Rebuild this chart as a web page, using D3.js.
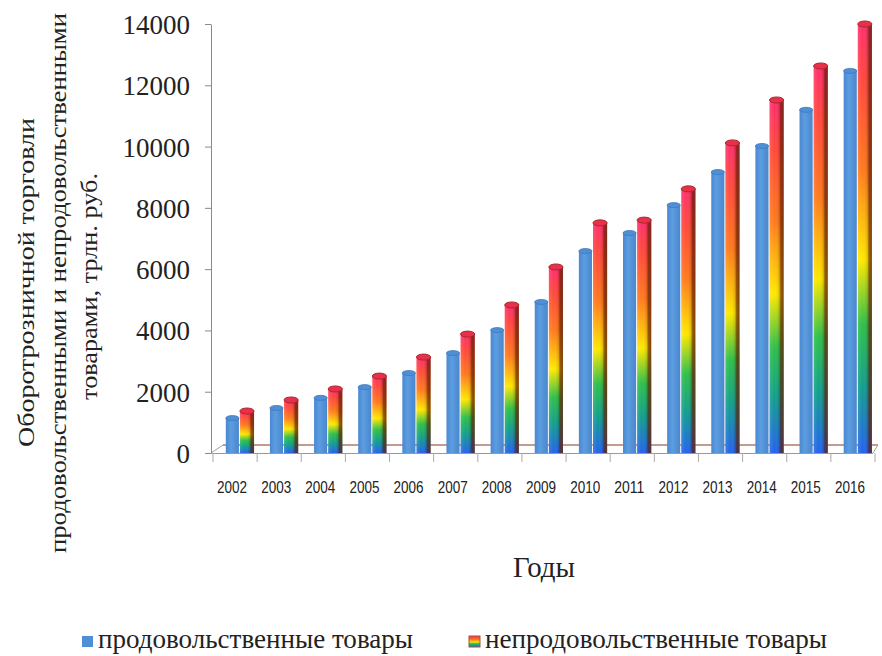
<!DOCTYPE html>
<html>
<head>
<meta charset="utf-8">
<script src="https://cdn.jsdelivr.net/npm/d3@7/dist/d3.min.js"></script>
<style>
  html, body { margin: 0; padding: 0; background: #fff; }
  svg { display: block; }
</style>
</head>
<body>
<svg id="chart" width="882" height="656"></svg>
<script>
// Retail turnover by year: food vs non-food goods
const years = ["2002","2003","2004","2005","2006","2007","2008","2009","2010","2011","2012","2013","2014","2015","2016"];
const foodGoods    = [1140, 1470, 1800, 2150, 2610, 3260, 4010, 4930, 6590, 7180, 8090, 9170, 10020, 11200, 12470];
const nonFoodGoods = [1370, 1730, 2090, 2510, 3130, 3880, 4830, 6070, 7510, 7600, 8620, 10120, 11520, 12630, 14000];
const yTicks = [0, 2000, 4000, 6000, 8000, 10000, 12000, 14000];
const seriesNames = ["продовольственные товары", "непродовольственные товары"];
const yTitleLines = ["Оборотрозничной торговли", "продовольственными и непродовольственными", "товарами, трлн. руб."];
const xTitle = "Годы";

const serif = "'Liberation Serif', 'Times New Roman', serif";
const svg = d3.select("#chart");
const defs = svg.append("defs");

// rainbow fill of the non-food columns (top red -> bottom blue)
const rainbow = defs.append("linearGradient").attr("id", "rainbow")
  .attr("x1", 0).attr("y1", 0).attr("x2", 0).attr("y2", 1);
[[0, "#ff2f6e"], [0.14, "#ff4a3c"], [0.34, "#ff7a1e"], [0.55, "#ffe800"], [0.7, "#2fc04a"], [0.84, "#12a08c"], [1, "#2463ee"]]
  .forEach(([o, c]) => rainbow.append("stop").attr("offset", o).attr("stop-color", c));

// cylinder shading across a column
const shade = defs.append("linearGradient").attr("id", "shade")
  .attr("x1", 0).attr("y1", 0).attr("x2", 1).attr("y2", 0);
[[0, "#ffffff", 0.12], [0.35, "#ffffff", 0.0], [0.68, "#3a0a00", 0.15], [0.8, "#5a1a00", 0.65], [1, "#6a2a10", 0.85]]
  .forEach(([o, c, a]) => shade.append("stop").attr("offset", o).attr("stop-color", c).attr("stop-opacity", a));

const blueFill = defs.append("linearGradient").attr("id", "blueFill")
  .attr("x1", 0).attr("y1", 0).attr("x2", 1).attr("y2", 0);
[[0, "#4a88d2"], [0.4, "#5c9de0"], [1, "#4a86cc"]]
  .forEach(([o, c]) => blueFill.append("stop").attr("offset", o).attr("stop-color", c));

const x = d3.scaleBand().domain(years).range([213, 875]).padding(0);
const bw = x.bandwidth();
const xs = d3.scaleBand().domain(["food", "nonfood"]).range([bw * 0.29, bw * 0.93]).padding(0);
const y = d3.scaleLinear().domain([0, 14000]).range([453, 24]);

const rows = years.map((yr, i) => ({ year: yr, food: foodGoods[i], nonfood: nonFoodGoods[i] }));

// floor of the plot
const floorBack = y(0) - 8;
const g = svg.append("g");
g.append("line").attr("x1", x.range()[0] + 10).attr("x2", x.range()[1] + 3)
  .attr("y1", floorBack).attr("y2", floorBack)
  .attr("stroke", "#b07a6a").attr("stroke-width", 1.3);
g.append("line").attr("x1", x.range()[0] - 2).attr("y1", y(0)).attr("x2", x.range()[0] + 10).attr("y2", floorBack)
  .attr("stroke", "#a0a0a0").attr("stroke-width", 1);
g.append("line").attr("x1", x.range()[1] - 2).attr("y1", y(0)).attr("x2", x.range()[1] + 3).attr("y2", floorBack)
  .attr("stroke", "#a0a0a0").attr("stroke-width", 1);

// columns
const ry = 3;
const col = g.selectAll("g.col").data(rows).join("g").attr("class", "col")
  .attr("transform", d => `translate(${x(d.year)},0)`);

// non-food (rainbow) columns
const nf = col.append("g");
nf.append("rect")
  .attr("x", xs("nonfood")).attr("width", xs.bandwidth())
  .attr("y", d => y(d.nonfood)).attr("height", d => y(0) - y(d.nonfood))
  .attr("fill", "url(#rainbow)");
nf.append("rect")
  .attr("x", xs("nonfood")).attr("width", xs.bandwidth())
  .attr("y", d => y(d.nonfood)).attr("height", d => y(0) - y(d.nonfood))
  .attr("fill", "url(#shade)");
nf.append("ellipse")
  .attr("cx", xs("nonfood") + xs.bandwidth() / 2).attr("rx", xs.bandwidth() / 2)
  .attr("cy", d => y(d.nonfood)).attr("ry", ry)
  .attr("fill", "#e8304e").attr("stroke", "#a82a22").attr("stroke-width", 1);

// food (blue) columns
const fd = col.append("g");
fd.append("rect")
  .attr("x", xs("food")).attr("width", xs.bandwidth() - 1)
  .attr("y", d => y(d.food)).attr("height", d => y(0) - y(d.food))
  .attr("fill", "url(#blueFill)");
fd.append("ellipse")
  .attr("cx", xs("food") + (xs.bandwidth() - 1) / 2).attr("rx", (xs.bandwidth() - 1) / 2)
  .attr("cy", d => y(d.food)).attr("ry", ry - 0.5)
  .attr("fill", "#4f8fd6").attr("stroke", "#3f78bb").attr("stroke-width", 0.8);

// front edge of the floor and category axis
const xAxis = d3.axisBottom(x).tickSize(9).tickSizeOuter(0).tickFormat("");
const xa = svg.append("g").attr("transform", `translate(0,${y(0)})`).call(xAxis);
xa.select(".domain").attr("stroke", "#999").attr("d", `M${x.range()[0] - 2},0.5H${x.range()[1] - 2}`);
xa.selectAll(".tick line").attr("stroke", "#aaa");
// closing tick on the right edge
xa.append("line").attr("x1", x.range()[1]).attr("x2", x.range()[1]).attr("y1", 0).attr("y2", 9).attr("stroke", "#aaa");
// ticks sit on category boundaries
xa.selectAll(".tick").attr("transform", d => `translate(${x(d)},0)`);

// year labels
svg.append("g").selectAll("text").data(years).join("text")
  .attr("x", d => x(d) + bw / 2 - 3)
  .attr("y", 493)
  .attr("text-anchor", "middle")
  .attr("font-family", "'Liberation Sans', Arial, sans-serif")
  .attr("font-size", 16)
  .attr("textLength", 30).attr("lengthAdjust", "spacingAndGlyphs")
  .attr("fill", "#222")
  .text(d => d);

// value axis
const yAxis = d3.axisLeft(y).tickValues(yTicks).tickSize(6).tickSizeOuter(0).tickFormat(d3.format("d"));
const ya = svg.append("g").attr("transform", "translate(211,0)").call(yAxis);
ya.select(".domain").attr("stroke", "#8a8a8a");
ya.selectAll(".tick line").attr("stroke", "#8a8a8a");
ya.selectAll(".tick text")
  .attr("x", -21).attr("dy", "0.35em")
  .attr("font-family", serif)
  .attr("font-size", 27).attr("fill", "#222");

// value axis title (three rotated lines)
const titleSpec = [
  { start: 447, len: 329, base: 34 },
  { start: 553, len: 540, base: 66 },
  { start: 400, len: 227, base: 97 }
];
svg.append("g").attr("transform", "rotate(-90)").selectAll("text")
  .data(yTitleLines).join("text")
  .attr("x", (d, i) => -titleSpec[i].start)
  .attr("y", (d, i) => titleSpec[i].base)
  .attr("textLength", (d, i) => titleSpec[i].len).attr("lengthAdjust", "spacingAndGlyphs")
  .attr("font-family", serif)
  .attr("font-size", 24).attr("fill", "#222")
  .text(d => d);

// category axis title
svg.append("text").attr("x", 513).attr("y", 577)
  .attr("textLength", 62).attr("lengthAdjust", "spacingAndGlyphs")
  .attr("font-family", serif)
  .attr("font-size", 29).attr("fill", "#222").text(xTitle);

// legend
const legend = svg.append("g");
const legendSpec = [
  { sx: 82, tx: 98, len: 315, fill: "#4f8fd6" },
  { sx: 469, tx: 485, len: 342, fill: "url(#rainbow)" }
];
legend.selectAll("rect").data(seriesNames).join("rect")
  .attr("x", (d, i) => legendSpec[i].sx).attr("y", 636)
  .attr("width", 11).attr("height", 11)
  .attr("fill", (d, i) => legendSpec[i].fill)
  .attr("stroke", (d, i) => i ? "#a05a30" : "none").attr("stroke-width", 1);
legend.selectAll("text").data(seriesNames).join("text")
  .attr("x", (d, i) => legendSpec[i].tx).attr("y", 648)
  .attr("textLength", (d, i) => legendSpec[i].len).attr("lengthAdjust", "spacingAndGlyphs")
  .attr("font-family", serif)
  .attr("font-size", 28).attr("fill", "#222")
  .text(d => d);
</script>
</body>
</html>
